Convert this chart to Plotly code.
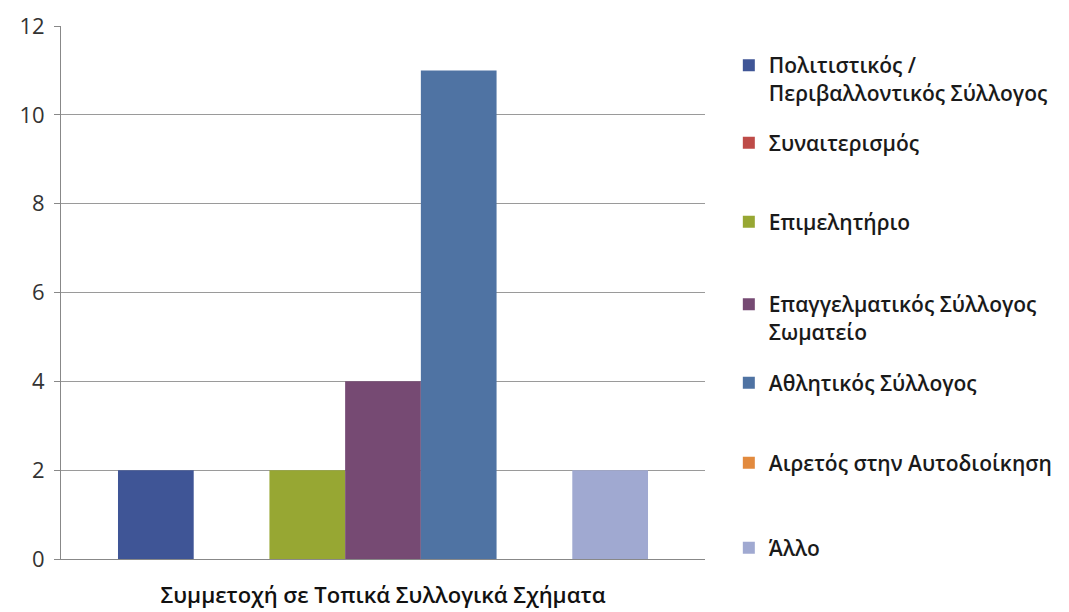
import plotly.graph_objects as go

category = ["Συμμετοχή σε Τοπικά Συλλογικά Σχήματα"]
series_names = [
    "Πολιτιστικός /<br>Περιβαλλοντικός Σύλλογος",
    "Συναιτερισμός",
    "Επιμελητήριο",
    "Επαγγελματικός Σύλλογος<br>Σωματείο",
    "Αθλητικός Σύλλογος",
    "Αιρετός στην Αυτοδιοίκηση",
    "Άλλο",
]
series_values = [2, 0, 2, 4, 11, 0, 2]
colors = ["#3f5596", "#be4b48", "#97a733", "#764a73", "#4f73a3", "#e28a3e", "#a0a9d1"]
legend_y = [0.9006, 0.7805, 0.6323, 0.4522, 0.3302, 0.1801, 0.0206]

FONT = "Open Sans, Noto Sans, DejaVu Sans, sans-serif"

fig = go.Figure()
for i, (name, val, col) in enumerate(zip(series_names, series_values, colors)):
    lg = "legend" if i == 0 else f"legend{i+1}"
    fig.add_trace(go.Bar(x=category, y=[val], name=name, marker_color=col,
                         marker_line_width=0, legend=lg))

layout_legends = {}
for i, y in enumerate(legend_y):
    key = "legend" if i == 0 else f"legend{i+1}"
    layout_legends[key] = dict(
        x=1.037, xanchor="left", y=y, yanchor="middle",
        font=dict(family=FONT, size=21, color="#1a1a1a", weight=600),
        bgcolor="rgba(0,0,0,0)", itemwidth=30, valign="top",
        itemclick=False, itemdoubleclick=False,
    )

# page body has an 8px margin, so the figure is drawn 8px in and 8px down
fig.update_layout(
    width=1061, height=604,
    margin=dict(l=53, r=364, t=18, b=53, autoexpand=False),
    paper_bgcolor="white", plot_bgcolor="white",
    barmode="group", bargap=0.177, bargroupgap=0,
    showlegend=True,
    **layout_legends,
)
fig.update_xaxes(
    automargin=False,
    showline=True, linecolor="#888", linewidth=1,
    ticks="", ticklabelstandoff=17,
    tickfont=dict(family=FONT, size=22, color="#111", weight=600),
)
fig.update_yaxes(
    automargin=False,
    range=[0, 12], dtick=2, tick0=0,
    showgrid=True, gridcolor="#9a9a9a", gridwidth=1,
    showline=True, linecolor="#888", linewidth=1,
    ticks="outside", ticklen=6, tickcolor="#888",
    ticklabelstandoff=5,
    tickfont=dict(family=FONT, size=22, color="#333"),
    zeroline=False,
)

fig.write_html("out.html")
